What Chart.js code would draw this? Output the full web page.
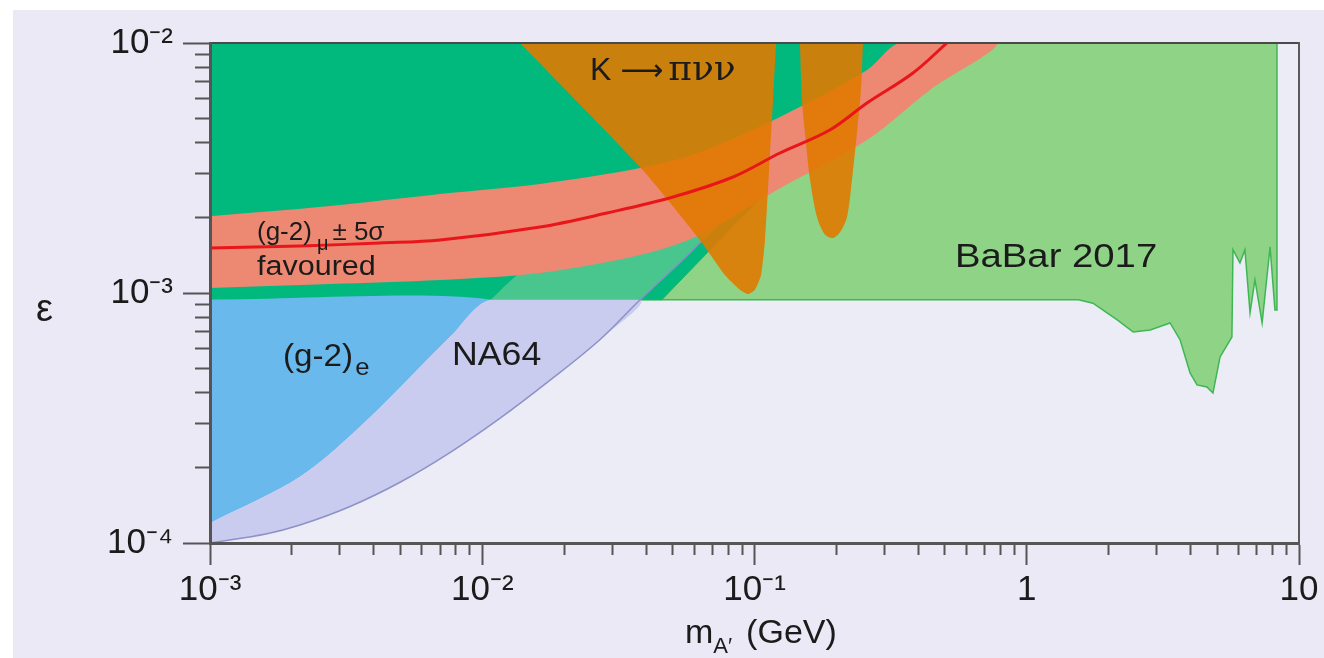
<!DOCTYPE html>
<html>
<head>
<meta charset="utf-8">
<script src="https://cdn.jsdelivr.net/npm/chart.js@4.4.1/dist/chart.umd.min.js"></script>
<style>
  html, body { margin: 0; padding: 0; background: #ffffff; }
  #wrap { position: relative; width: 1324px; height: 658px; }
  #panel { position: absolute; left: 13px; top: 10px; right: 0; bottom: 0; background: #eae9f5; }
  canvas { position: absolute; left: 0; top: 0; }
</style>
</head>
<body>
<div id="wrap"><div id="panel"></div><canvas id="chart" width="1324" height="658"></canvas></div>
<script>
// axis ranges
const xRange = [1e-3, 10];
const yRange = [1e-4, 1e-2];

// ticks
const xDecades = [1e-3, 1e-2, 1e-1, 1, 10];
const xTickLabels = ['10⁻³', '10⁻²', '10⁻¹', '1', '10'];
const yDecades = [1e-4, 1e-3, 1e-2];
const yTickLabels = ['10⁻⁴', '10⁻³', '10⁻²'];
const minorSteps = [2, 3, 4, 5, 6, 7, 8, 9];

// region edges as [mass (GeV), epsilon]
const babar = [
  [0.02, 9.4e-4], [1.55, 9.4e-4], [1.75, 9.1e-4], [2.15, 7.8e-4], [2.46, 6.98e-4],
  [2.84, 7.11e-4], [3.36, 7.59e-4], [3.66, 6.49e-4], [3.98, 4.79e-4], [4.22, 4.29e-4],
  [4.59, 4.21e-4], [4.83, 3.98e-4], [5.13, 5.55e-4], [5.67, 6.67e-4], [5.72, 1.49e-3],
  [6.07, 1.32e-3], [6.33, 1.49e-3], [6.61, 8.32e-4], [6.89, 1.13e-3], [7.32, 7.59e-4],
  [7.83, 1.53e-3], [8.16, 8.55e-4], [8.3, 8.55e-4], [8.3, 1e-2], [0.02, 1e-2]
];
const olderLimits = [[1e-3, 9.4e-4], [0.0457, 9.4e-4], [0.372, 1e-2], [1e-3, 1e-2]];
const g2eEdge = [
  [1e-3, 1.2e-4], [2.14e-3, 1.84e-4], [3.77e-3, 3.1e-4], [7.61e-3, 6.67e-4],
  [0.0107, 9.4e-4], [0.0146, 1.24e-3]
];
const na64Edge = [
  [1e-3, 1.0e-4], [1.62e-3, 1.09e-4], [2.14e-3, 1.18e-4], [3.27e-3, 1.4e-4],
  [4.99e-3, 1.75e-4], [7.61e-3, 2.3e-4], [0.0116, 3.15e-4], [0.0177, 4.47e-4],
  [0.0271, 6.52e-4], [0.038, 9.4e-4], [0.0594, 1.49e-3], [0.0747, 1.96e-3]
];
const g2muLower = [
  [1e-3, 1.047e-3], [2.76e-3, 1.086e-3], [7.0e-3, 1.127e-3], [0.0163, 1.202e-3],
  [0.038, 1.419e-3], [0.063, 1.706e-3], [0.121, 2.582e-3], [0.259, 4.09e-3],
  [0.441, 6.49e-3], [0.777, 1e-2]
];
const g2muUpper = [
  [1e-3, 2.03e-3], [2.76e-3, 2.23e-3], [7.0e-3, 2.49e-3], [0.0163, 2.73e-3],
  [0.038, 3.16e-3], [0.063, 3.66e-3], [0.124, 5.06e-3], [0.259, 7.8e-3], [0.342, 1e-2]
];
const g2muCentral = [
  [1e-3, 1.514e-3], [2.14e-3, 1.542e-3], [4.21e-3, 1.585e-3], [7.0e-3, 1.629e-3],
  [0.0163, 1.837e-3], [0.0287, 2.089e-3], [0.0502, 2.421e-3], [0.0834, 2.911e-3],
  [0.124, 3.631e-3], [0.189, 4.487e-3], [0.259, 5.754e-3], [0.382, 7.586e-3], [0.509, 1e-2]
];
const kaonMain = [
  [0.01376, 1e-2], [0.038, 3.19e-3], [0.063, 1.63e-3], [0.0779, 1.18e-3], [0.0884, 1.03e-3],
  [0.0946, 9.9e-4], [0.1004, 1.03e-3], [0.1057, 1.18e-3], [0.1093, 1.63e-3],
  [0.1131, 3.1e-3], [0.117, 5.92e-3], [0.120, 1e-2]
];
const kaonDip = [
  [0.1469, 1e-2], [0.1494, 5.92e-3], [0.1533, 4.37e-3], [0.16, 2.83e-3], [0.1697, 2.01e-3],
  [0.1816, 1.71e-3], [0.1942, 1.66e-3], [0.2061, 1.75e-3], [0.2186, 2.01e-3],
  [0.228, 2.83e-3], [0.2378, 4.37e-3], [0.246, 6.49e-3], [0.2503, 1e-2]
];

const SANS = '"Liberation Sans", Arial, sans-serif';

// build shapes
const floorEps = 9.4e-4;
const below = pts => pts.filter(p => p[1] <= floorEps);
const above = pts => pts.filter(p => p[1] >= floorEps);
const xy = pts => pts.map(([x, y]) => ({ x, y }));

const g2eShape = below(g2eEdge).concat([[1e-3, floorEps]]);
const na64Low = below(na64Edge).concat(below(g2eEdge).reverse());
const na64High = above(na64Edge).concat(above(g2eEdge).reverse());
const bandShape = g2muLower.concat(g2muUpper.slice().reverse());

function region(points, color, extra) {
  return Object.assign({
    data: xy(points), showLine: true, fill: 'shape', backgroundColor: color,
    borderWidth: 0, borderColor: 'transparent', pointRadius: 0, pointHoverRadius: 0,
    tension: 0, clip: 0
  }, extra || {});
}

const minorTicks = decades => decades.slice(0, -1)
  .flatMap(d => minorSteps.map(m => ({ value: m * d })));

// text labels inside the plot, anchored in data coordinates
const labels = [
  { x: 0.02487, y: 7.11e-3, stretch: 1, parts: [
    { text: 'K', font: '32px ' + SANS },
    { text: '⟶', font: '30px "DejaVu Sans"', gap: 9 },
    { text: 'πνν', font: '36px "DejaVu Serif"', gap: 5 }] },
  { x: 1.488e-3, y: 1.629e-3, stretch: 1, parts: [
    { text: '(g-2)', font: '26px ' + SANS },
    { text: 'μ', font: '20px ' + SANS, dy: 10, gap: 5 },
    { text: '± 5σ', font: '26px ' + SANS, gap: 4 }] },
  { x: 1.488e-3, y: 1.18e-3, stretch: 1.13, parts: [{ text: 'favoured', font: '27px ' + SANS }] },
  { x: 0.545, y: 1.27e-3, stretch: 1.16, parts: [{ text: 'BaBar 2017', font: '33px ' + SANS }] },
  { x: 1.854e-3, y: 5.1e-4, stretch: 1.07, parts: [
    { text: '(g-2)', font: '31px ' + SANS },
    { text: 'e', font: '24px ' + SANS, dy: 9, gap: 2 }] },
  { x: 7.74e-3, y: 5.15e-4, stretch: 1.05, parts: [{ text: 'NA64', font: '34px ' + SANS }] }
];

function drawRich(ctx, parts, x, y, stretch) {
  ctx.save();
  ctx.translate(x, y);
  ctx.scale(stretch, 1);
  let cx = 0;
  parts.forEach(p => {
    ctx.font = p.font;
    cx += p.gap || 0;
    ctx.fillText(p.text, cx, p.dy || 0);
    cx += ctx.measureText(p.text).width;
  });
  ctx.restore();
}

const textPlugin = {
  id: 'plotText',
  beforeDraw(chart) {
    const { ctx, chartArea: a } = chart;
    ctx.save();
    ctx.fillStyle = '#ececf7';
    ctx.fillRect(a.left, a.top, a.right - a.left, a.bottom - a.top);
    ctx.restore();
  },
  afterDatasetsDraw(chart) {
    const { ctx, scales: { x, y } } = chart;
    ctx.save();
    ctx.fillStyle = '#1b1b1b';
    ctx.textBaseline = 'alphabetic';
    ctx.textAlign = 'left';
    labels.forEach(l => drawRich(ctx, l.parts, x.getPixelForValue(l.x), y.getPixelForValue(l.y), l.stretch));
    // axis titles
    drawRich(ctx, [{ text: 'ε', font: '38px ' + SANS }], 36, 321, 1);
    drawRich(ctx, [
      { text: 'm', font: '34px ' + SANS },
      { text: 'A′', font: '22px ' + SANS, dy: 10 },
      { text: '(GeV)', font: '34px ' + SANS, gap: 14 }
    ], 685, 643, 1);
    ctx.restore();
  }
};

const axisColor = '#555555';
const kaonColor = 'rgba(224,122,0,0.9)';

new Chart(document.getElementById('chart'), {
  type: 'scatter',
  data: {
    datasets: [
      region(g2muCentral, 'transparent', { fill: false, borderColor: '#e8161a', borderWidth: 3, tension: 0.35 }),
      region(kaonDip, kaonColor, { tension: 0.3 }),
      region(kaonMain, kaonColor, { tension: 0.2 }),
      region(bandShape, '#ed8873', { tension: 0.3 }),
      region(na64Edge, 'transparent', { fill: false, borderColor: '#8e90c8', borderWidth: 1.5, tension: 0.35 }),
      region(na64High, '#48c68e', { tension: 0.3 }),
      region(na64Low, '#c9ccee', { tension: 0.3 }),
      region(g2eShape, '#69b9ec', { tension: 0.3 }),
      region(olderLimits, '#02b97d', { borderColor: '#1fb36a', borderWidth: 1 }),
      region(babar, '#8fd486', { borderColor: '#3fb654', borderWidth: 1.5 })
    ]
  },
  options: {
    responsive: false,
    animation: false,
    events: [],
    layout: { padding: { top: 43, right: 25, bottom: 0, left: 0 } },
    plugins: { legend: { display: false }, tooltip: { enabled: false } },
    scales: {
      x: {
        type: 'logarithmic', position: 'bottom', weight: 1,
        min: xRange[0], max: xRange[1],
        afterBuildTicks: s => { s.ticks = xDecades.map(v => ({ value: v })); },
        afterFit: s => { s.height = 115; },
        ticks: {
          callback: (v, i) => xTickLabels[i], autoSkip: false, maxRotation: 0,
          font: { family: SANS, size: 35 }, color: '#1b1b1b', padding: 4
        },
        grid: { drawOnChartArea: false, tickLength: 22, tickWidth: 2, tickColor: axisColor, z: 2 },
        border: { display: true, color: axisColor, width: 3, z: 2 }
      },
      xMinor: {
        type: 'logarithmic', position: 'bottom', weight: 0,
        min: xRange[0], max: xRange[1],
        afterBuildTicks: s => { s.ticks = minorTicks(xDecades); },
        afterFit: s => { s.height = 0; },
        ticks: { display: false },
        grid: { drawOnChartArea: false, tickLength: 12, tickWidth: 2, tickColor: axisColor, z: 2 },
        border: { display: false }
      },
      xTop: {
        type: 'logarithmic', position: 'top',
        min: xRange[0], max: xRange[1],
        afterBuildTicks: s => { s.ticks = []; },
        afterFit: s => { s.height = 0; },
        ticks: { display: false },
        grid: { display: false },
        border: { display: true, color: '#4a4a4a', width: 2, z: 2 }
      },
      y: {
        type: 'logarithmic', position: 'left', weight: 1,
        min: yRange[0], max: yRange[1],
        afterBuildTicks: s => { s.ticks = yDecades.map(v => ({ value: v })); },
        afterFit: s => { s.width = 210; },
        ticks: {
          callback: (v, i) => yTickLabels[i], autoSkip: false,
          font: { family: SANS, size: 35 }, color: '#1b1b1b', padding: 10
        },
        grid: { drawOnChartArea: false, tickLength: 27, tickWidth: 2, tickColor: axisColor, z: 2 },
        border: { display: true, color: axisColor, width: 3, z: 2 }
      },
      yMinor: {
        type: 'logarithmic', position: 'left', weight: 0,
        min: yRange[0], max: yRange[1],
        afterBuildTicks: s => { s.ticks = minorTicks(yDecades); },
        afterFit: s => { s.width = 0; },
        ticks: { display: false },
        grid: { drawOnChartArea: false, tickLength: 15, tickWidth: 2, tickColor: axisColor, z: 2 },
        border: { display: false }
      },
      yRight: {
        type: 'logarithmic', position: 'right',
        min: yRange[0], max: yRange[1],
        afterBuildTicks: s => { s.ticks = []; },
        afterFit: s => { s.width = 0; },
        ticks: { display: false },
        grid: { display: false },
        border: { display: true, color: '#5a5a5a', width: 2, z: 2 }
      }
    }
  },
  plugins: [textPlugin]
});
</script>
</body>
</html>
